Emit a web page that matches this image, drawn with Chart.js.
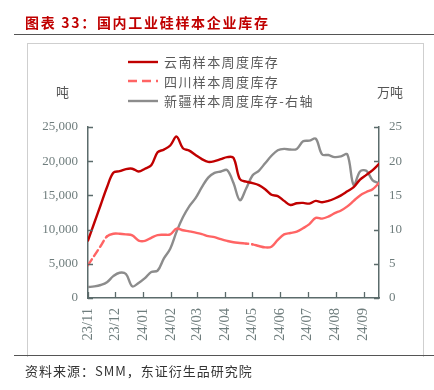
<!DOCTYPE html>
<html>
<head>
<meta charset="utf-8">
<script src="https://cdn.jsdelivr.net/npm/chart.js@4.4.1/dist/chart.umd.min.js"></script>
<style>
  html, body { margin: 0; padding: 0; background: #fff; }
  #wrap { position: relative; width: 434px; height: 390px; overflow: hidden; font-family: "Noto Sans CJK SC", sans-serif; }
  #chart { position: absolute; left: 0; top: 0; }
  .abs { position: absolute; white-space: nowrap; }
  #title { left: 25px; top: 12px; font-size: 14px; letter-spacing: 1.7px; color: #c00000; font-weight: 700; }
  #rule1 { left: 14px; top: 34px; width: 420px; height: 0; border-top: 1.5px solid #555; }
  #frame { left: 27px; top: 43px; width: 395px; height: 313px; border: 1px solid #cfcfcf; border-bottom: none; }
  #rule2 { left: 14px; top: 355px; width: 420px; height: 0; border-top: 1.5px solid #555; }
  #source { left: 25px; top: 361px; font-size: 13px; letter-spacing: 1px; color: #333; }
  #unitL { left: 56px; top: 82px; font-size: 13px; color: #555; }
  #unitR { left: 377px; top: 82px; font-size: 13px; color: #555; }
  #legend { left: 128px; top: 52px; }
  .item { height: 19.5px; display: flex; align-items: center; font-size: 13px; letter-spacing: 1.4px; color: #595959; }
  .item svg { margin-right: 6px; }
</style>
</head>
<body>
<div id="wrap">
  <div id="frame" class="abs"></div>
  <canvas id="chart" width="434" height="390"></canvas>
  <div id="title" class="abs">图表 33：国内工业硅样本企业库存</div>
  <div id="rule1" class="abs"></div>
  <div id="legend" class="abs"></div>
  <div id="unitL" class="abs">吨</div>
  <div id="unitR" class="abs">万吨</div>
  <div id="rule2" class="abs"></div>
  <div id="source" class="abs">资料来源：SMM，东证衍生品研究院</div>
</div>
<script>
// weekly sample dates
const weeks = [
  '2023-11-03', '2023-11-10', '2023-11-17', '2023-11-24', '2023-12-01', '2023-12-08',
  '2023-12-15', '2023-12-22', '2023-12-29', '2024-01-05', '2024-01-12', '2024-01-19',
  '2024-01-26', '2024-02-02', '2024-02-09', '2024-02-16', '2024-02-23', '2024-03-01',
  '2024-03-08', '2024-03-15', '2024-03-22', '2024-03-29', '2024-04-05', '2024-04-12',
  '2024-04-19', '2024-04-26', '2024-05-03', '2024-05-10', '2024-05-17', '2024-05-24',
  '2024-05-31', '2024-06-07', '2024-06-14', '2024-06-21', '2024-06-28', '2024-07-05',
  '2024-07-12', '2024-07-19', '2024-07-26', '2024-08-02', '2024-08-09', '2024-08-16',
  '2024-08-23', '2024-08-30', '2024-09-06', '2024-09-13', '2024-09-20'
];

// 云南 (吨)
const yunnan = [
  8400, 11000, 13600, 16200, 18300, 18550, 18850, 18900, 18500, 18900,
  19400, 21300, 21700, 22300, 23600, 21900, 21550, 20900, 20300, 19900,
  20000, 20300, 20600, 20500, 17400, 17000, 16800, 16500, 15900, 15100,
  14900, 14200, 13600, 13850, 13900, 13800, 14200, 14000, 14200, 14550,
  15000, 15600, 16200, 17300, 18000, 18700, 19600
];

// 四川 (吨)
const sichuan = [
  4800, 6200, 7600, 9000, 9400, 9400, 9300, 9150, 8400, 8350,
  8800, 9200, 9250, 9300, 10150, 9900, 9750, 9550, 9350, 9050,
  8900, 8600, 8350, 8150, 8050, 7950, 7850, 7600, 7400, 7500,
  8500, 9300, 9500, 9700, 10200, 10800, 11700, 11600, 11900, 12400,
  12800, 13400, 14200, 15000, 15500, 15900, 16800
];

// 新疆 (万吨, right axis)
const xinjiang = [
  1.6, 1.7, 1.9, 2.3, 3.2, 3.7, 3.5, 1.7, 2.2, 2.9,
  3.8, 4.0, 5.8, 7.2, 9.7, 11.8, 13.4, 14.6, 16.2, 17.6,
  18.3, 18.5, 18.7, 16.8, 14.3, 16.0, 17.9, 18.6, 19.7, 20.8,
  21.6, 21.8, 21.7, 21.8, 22.9, 23.0, 23.3, 21.0, 20.9, 20.6,
  20.7, 21.0, 16.5, 18.5, 18.6, 17.2, 16.8
];

const monthLabels = ['23/11', '23/12', '24/01', '24/02', '24/03', '24/04', '24/05', '24/06', '24/07', '24/08', '24/09'];
const leftTicks = [0, 5000, 10000, 15000, 20000, 25000];
const rightTicks = [0, 5, 10, 15, 20, 25];

const axisColor = '#5b6b6b';
const tickColor = '#6f7d7d';

// day offset from first week
const DAY = 86400000;
const start = Date.parse(weeks[0] + 'T00:00:00Z');
const startDay = new Date(start).getUTCDate();
function dayOf(str) { return (Date.parse(str + 'T00:00:00Z') - start) / DAY; }
const xs = weeks.map(dayOf);
const monthTicks = monthLabels.map(l => {
  const [yy, mm] = l.split('/').map(Number);
  return (Date.UTC(2000 + yy, mm - 1, startDay) - start) / DAY;
});
const labelAt = {};
monthTicks.forEach((v, i) => { labelAt[v] = monthLabels[i]; });

function pts(vals) { return vals.map((v, i) => ({ x: xs[i], y: v })); }

// small tick marks drawn inward on the axes
const innerTicks = {
  id: 'innerTicks',
  afterDraw(chart) {
    const { ctx } = chart;
    const { x, y, y1 } = chart.scales;
    ctx.save();
    ctx.strokeStyle = axisColor;
    ctx.lineWidth = 1.3;
    ctx.beginPath();
    x.ticks.forEach(t => {
      const px = Math.round(x.getPixelForValue(t.value)) + 0.5;
      ctx.moveTo(px, x.top);
      ctx.lineTo(px, x.top - 6);
    });
    y.ticks.forEach(t => {
      const py = Math.round(y.getPixelForValue(t.value)) + 0.5;
      ctx.moveTo(y.right, py);
      ctx.lineTo(y.right + 5, py);
    });
    y1.ticks.forEach(t => {
      const py = Math.round(y1.getPixelForValue(t.value)) + 0.5;
      ctx.moveTo(y1.left, py);
      ctx.lineTo(y1.left - 5, py);
    });
    ctx.stroke();
    ctx.restore();
  }
};

const serif = { family: '"Liberation Serif", "Times New Roman", serif', size: 13 };

const chart = new Chart(document.getElementById('chart'), {
  type: 'line',
  data: {
    datasets: [
      {
        label: '云南样本周度库存',
        data: pts(yunnan),
        borderColor: '#c00000',
        borderWidth: 2.4,
        yAxisID: 'y'
      },
      {
        label: '四川样本周度库存',
        data: pts(sichuan),
        borderColor: '#ff6464',
        borderWidth: 2.4,
        legendDash: [9, 5],
        segment: {
          borderDash: ctx => ctx.p1DataIndex <= 3 ? [7, 4] : (ctx.p0DataIndex === 25 ? [2, 4] : undefined)
        },
        yAxisID: 'y'
      },
      {
        label: '新疆样本周度库存-右轴',
        data: pts(xinjiang),
        borderColor: '#8c8c8c',
        borderWidth: 2.4,
        yAxisID: 'y1'
      }
    ]
  },
  options: {
    responsive: false,
    animation: false,
    devicePixelRatio: 1,
    elements: {
      point: { radius: 0 },
      line: { tension: 0.35, fill: false, borderCapStyle: 'round' }
    },
    layout: { padding: { top: 127, left: 0, right: 0, bottom: 0 } },
    plugins: { legend: { display: false }, tooltip: { enabled: false } },
    scales: {
      x: {
        type: 'linear',
        min: xs[0],
        max: xs[xs.length - 1],
        afterBuildTicks: s => { s.ticks = monthTicks.map(v => ({ value: v })); },
        afterFit: s => { s.height = 92; },
        grid: { display: true, drawOnChartArea: false, drawTicks: false },
        border: { color: axisColor, width: 1.5 },
        ticks: {
          autoSkip: false,
          minRotation: 90,
          maxRotation: 90,
          padding: 10,
          color: tickColor,
          font: { family: serif.family, size: 14.5 },
          callback: v => labelAt[v] || ''
        }
      },
      y: {
        position: 'left',
        min: 0,
        max: 25000,
        afterBuildTicks: s => { s.ticks = leftTicks.map(v => ({ value: v })); },
        afterFit: s => { s.width = 88; },
        grid: { display: true, drawOnChartArea: false, drawTicks: false },
        border: { color: axisColor, width: 1.5 },
        ticks: {
          padding: 10,
          color: tickColor,
          font: serif,
          callback: v => v.toLocaleString('en-US')
        }
      },
      y1: {
        position: 'right',
        min: 0,
        max: 25,
        afterBuildTicks: s => { s.ticks = rightTicks.map(v => ({ value: v })); },
        afterFit: s => { s.width = 55; },
        grid: { display: true, drawOnChartArea: false, drawTicks: false },
        border: { color: axisColor, width: 1.5 },
        ticks: {
          padding: 10,
          color: tickColor,
          font: serif
        }
      }
    }
  },
  plugins: [innerTicks]
});

// legend built from the chart's datasets
const legendEl = document.getElementById('legend');
chart.data.datasets.forEach(ds => {
  const row = document.createElement('div');
  row.className = 'item';
  const dash = ds.legendDash ? ` stroke-dasharray="${ds.legendDash.join(',')}"` : '';
  row.innerHTML = `<svg width="30" height="4"><line x1="0" y1="2" x2="30" y2="2" stroke="${ds.borderColor}" stroke-width="2.4"${dash}/></svg><span>${ds.label}</span>`;
  legendEl.appendChild(row);
});
</script>
</body>
</html>
